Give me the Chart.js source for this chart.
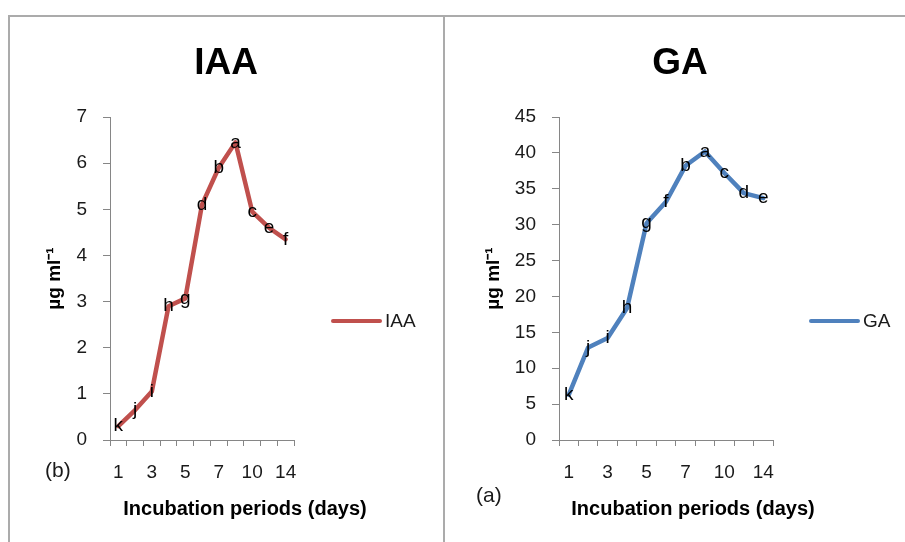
<!DOCTYPE html>
<html>
<head>
<meta charset="utf-8">
<script src="https://cdn.jsdelivr.net/npm/chart.js@4/dist/chart.umd.min.js"></script>
<style>
  body { margin: 0; overflow: hidden; background: #fff; font-family: "Liberation Sans", Arial, sans-serif; }
  #page { position: relative; width: 905px; height: 542px; overflow: hidden; }
  .frame { position: absolute; left: 8px; top: 15px; width: 1000px; height: 600px; border-top: 2px solid #ababab; border-left: 2px solid #ababab; }
  .divider { position: absolute; left: 443px; top: 15px; width: 2px; height: 600px; background: #ababab; }
  canvas { position: absolute; }
  .title { position: absolute; width: 200px; text-align: center; font-size: 37px; line-height: 37px; font-weight: bold; color: #000; }
  .xtitle { position: absolute; width: 300px; text-align: center; font-size: 20px; line-height: 20px; font-weight: bold; color: #000; }
  .legend { position: absolute; display: flex; align-items: center; font-size: 19px; line-height: 20px; color: #1a1a1a; }
  .legend i { display: inline-block; width: 51px; height: 4.5px; border-radius: 2px; margin-right: 3px; }
  .tag { position: absolute; font-size: 21px; line-height: 22px; color: #1a1a1a; }
</style>
</head>
<body>
<div id="page">
  <div class="frame"></div>
  <div class="divider"></div>
  <canvas id="iaaChart" width="436" height="527" style="left:8px;top:15px"></canvas>
  <canvas id="gaChart" width="462" height="527" style="left:443px;top:15px"></canvas>
  <div class="title" id="iaaTitle" style="left:126px;top:43px"></div>
  <div class="title" id="gaTitle" style="left:580px;top:43px"></div>
  <div class="xtitle" style="left:95px;top:498px">Incubation periods (days)</div>
  <div class="xtitle" style="left:543px;top:498px">Incubation periods (days)</div>
  <div class="legend" id="iaaLegend" style="left:331px;top:311px"></div>
  <div class="legend" id="gaLegend" style="left:809px;top:311px"></div>
  <div class="tag" style="left:45px;top:459px">(b)</div>
  <div class="tag" style="left:476px;top:484px">(a)</div>
</div>
<script>
const days = ["1", "2", "3", "4", "5", "6", "7", "8", "10", "12", "14"];
const shownDays = ["1", "3", "5", "7", "10", "14"];

const iaaValues = [0.3, 0.65, 1.05, 2.9, 3.07, 5.1, 5.9, 6.45, 4.95, 4.6, 4.35];
const iaaLetters = ["k", "j", "i", "h", "g", "d", "b", "a", "c", "e", "f"];

const gaValues = [6.3, 12.9, 14.2, 18.4, 30.2, 33.2, 38.2, 40.2, 37.2, 34.4, 33.7];
const gaLetters = ["k", "j", "i", "h", "g", "f", "b", "a", "c", "d", "e"];

const AXIS = "#868686";
const TEXT = "#1a1a1a";

Chart.defaults.font.family = '"Liberation Sans", Arial, sans-serif';
Chart.defaults.color = TEXT;

// letters from the significance test, written over each point
const letterLabels = {
  id: "letterLabels",
  afterDatasetsDraw(chart, args, opts) {
    const ctx = chart.ctx;
    const pts = chart.getDatasetMeta(0).data;
    ctx.save();
    ctx.font = '19px "Liberation Sans", Arial, sans-serif';
    ctx.fillStyle = "#000";
    ctx.textAlign = "center";
    ctx.textBaseline = "middle";
    pts.forEach((p, i) => ctx.fillText(opts.letters[i], p.x, p.y));
    ctx.restore();
  },
};

function makeChart(id, cfg) {
  return new Chart(document.getElementById(id), {
    type: "line",
    data: {
      labels: days,
      datasets: [
        {
          label: cfg.name,
          data: cfg.values,
          borderColor: cfg.color,
          backgroundColor: cfg.color,
          borderWidth: 4.5,
          borderCapStyle: "round",
          borderJoinStyle: "round",
          pointRadius: 0,
          tension: 0,
        },
      ],
    },
    options: {
      responsive: false,
      animation: false,
      layout: { padding: { left: 0, right: cfg.padRight, top: 102, bottom: 0 } },
      plugins: {
        legend: { display: false },
        tooltip: { enabled: false },
        letterLabels: { letters: cfg.letters },
      },
      scales: {
        x: {
          offset: true,
          grid: { offset: true, drawOnChartArea: false, tickLength: 6, color: AXIS },
          border: { color: AXIS, width: 1 },
          ticks: {
            autoSkip: false,
            maxRotation: 0,
            padding: 15,
            font: { size: 19 },
            color: TEXT,
            callback(v) {
              const d = this.getLabelForValue(v);
              return shownDays.includes(d) ? d : "";
            },
          },
          afterFit(s) { s.height = 102; },
        },
        y: {
          min: 0,
          max: cfg.max,
          grid: { drawOnChartArea: false, tickLength: 7, color: AXIS },
          border: { color: AXIS, width: 1 },
          ticks: { stepSize: cfg.step, padding: 16, font: { size: 19 }, color: TEXT },
          title: {
            display: true,
            text: "µg ml⁻¹",
            color: "#000",
            font: { size: 19, weight: "bold" },
            padding: { top: cfg.yTitlePad },
          },
          afterFit(s) { s.width = cfg.yWidth; },
        },
      },
    },
    plugins: [letterLabels],
  });
}

function renderHeader(chart, titleId, legendId) {
  const ds = chart.data.datasets[0];
  document.getElementById(titleId).textContent = ds.label;
  document.getElementById(legendId).innerHTML =
    `<i style="background:${ds.borderColor}"></i><span>${ds.label}</span>`;
}

const iaa = makeChart("iaaChart", {
  name: "IAA", values: iaaValues, letters: iaaLetters, color: "#C0504D",
  max: 7, step: 1, padRight: 150, yWidth: 102, yTitlePad: 35,
});
const ga = makeChart("gaChart", {
  name: "GA", values: gaValues, letters: gaLetters, color: "#4F81BD",
  max: 45, step: 5, padRight: 132, yWidth: 116, yTitlePad: 39,
});

renderHeader(iaa, "iaaTitle", "iaaLegend");
renderHeader(ga, "gaTitle", "gaLegend");
</script>
</body>
</html>
